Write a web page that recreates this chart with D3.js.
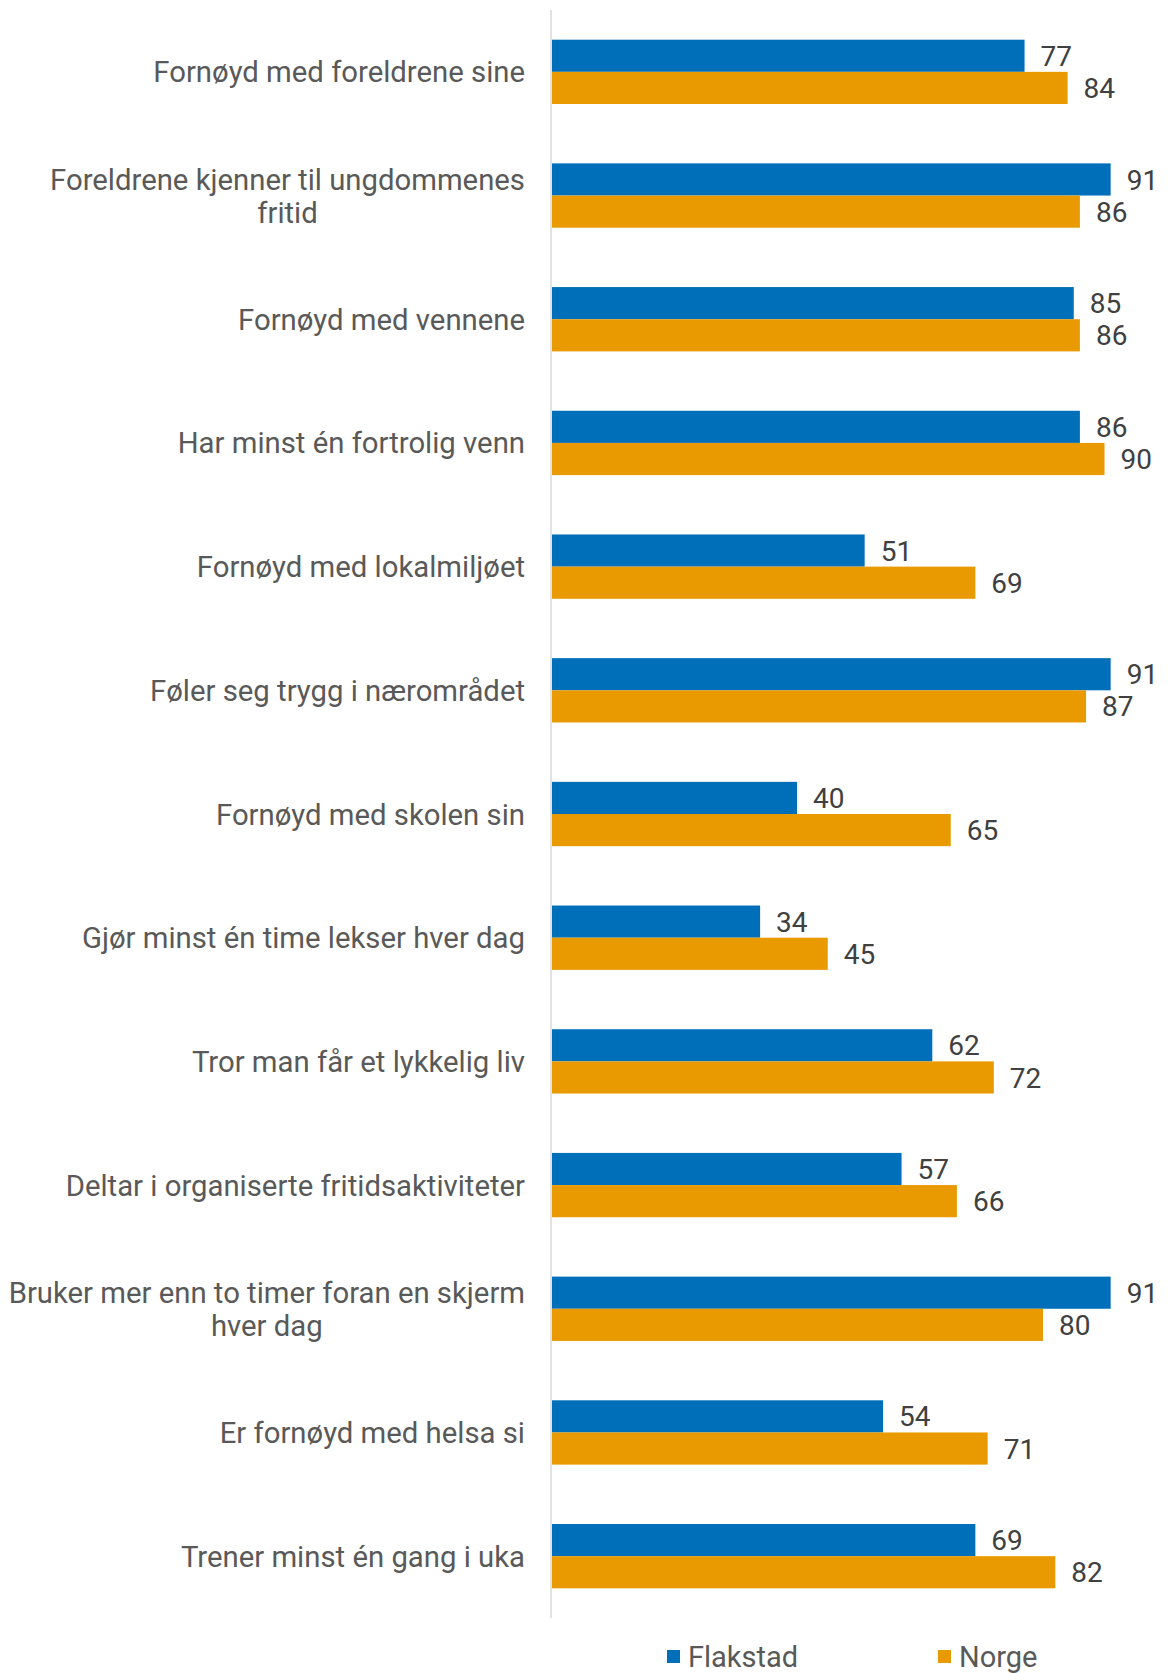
<!DOCTYPE html>
<html lang="no">
<head>
<meta charset="UTF-8">
<title>Flakstad vs Norge</title>
<script src="https://d3js.org/d3.v7.min.js"></script>
<style>
  body { margin: 0; background: #fff; }
  text { font-family: Roboto, "Liberation Sans", sans-serif; }
</style>
</head>
<body>
<script>
var categories = [
    ["Fornøyd med foreldrene sine"],
    ["Foreldrene kjenner til ungdommenes", "fritid"],
    ["Fornøyd med vennene"],
    ["Har minst én fortrolig venn"],
    ["Fornøyd med lokalmiljøet"],
    ["Føler seg trygg i nærområdet"],
    ["Fornøyd med skolen sin"],
    ["Gjør minst én time lekser hver dag"],
    ["Tror man får et lykkelig liv"],
    ["Deltar i organiserte fritidsaktiviteter"],
    ["Bruker mer enn to timer foran en skjerm", "hver dag"],
    ["Er fornøyd med helsa si"],
    ["Trener minst én gang i uka"]
];
var seriesNames = ["Flakstad", "Norge"];
var flakstad = [77, 91, 85, 86, 51, 91, 40, 34, 62, 57, 91, 54, 69];
var norge = [84, 86, 86, 90, 69, 87, 65, 45, 72, 66, 80, 71, 82];
var colors = ["#006FBA", "#E89A00"];

var width = 1168, height = 1673;
var x0 = 551, x1 = 1166, yTop = 10, yBot = 1618;

var svg = d3.select("body").append("svg")
    .attr("width", width)
    .attr("height", height);

var y = d3.scaleBand()
    .domain(d3.range(categories.length))
    .range([yTop, yBot])
    .paddingInner(0.48)
    .paddingOuter(0.24);

var ySub = d3.scaleBand()
    .domain([0, 1])
    .range([0, y.bandwidth()]);

var x = d3.scaleLinear().domain([0, 100]).range([x0, x1]);

var rows = categories.map(function (c, i) {
    return { label: c, vals: [flakstad[i], norge[i]] };
});

// axis line
svg.append("line")
    .attr("x1", x0).attr("x2", x0)
    .attr("y1", yTop).attr("y2", yBot)
    .attr("stroke", "#d9d9d9")
    .attr("stroke-width", 1.5);

var g = svg.selectAll("g.cat")
    .data(rows)
    .enter().append("g")
    .attr("class", "cat")
    .attr("transform", function (d, i) { return "translate(0," + y(i) + ")"; });

g.selectAll("rect")
    .data(function (d) { return d.vals; })
    .enter().append("rect")
    .attr("x", x(0) + 1)
    .attr("y", function (d, j) { return ySub(j); })
    .attr("width", function (d) { return x(d) - x(0) - 1; })
    .attr("height", ySub.bandwidth())
    .attr("fill", function (d, j) { return colors[j]; });

g.selectAll("text.val")
    .data(function (d) { return d.vals; })
    .enter().append("text")
    .attr("class", "val")
    .attr("x", function (d) { return x(d) + 16; })
    .attr("y", function (d, j) { return ySub(j) + ySub.bandwidth() / 2; })
    .attr("dy", "0.36em")
    .attr("font-size", 28)
    .attr("fill", "#404040")
    .text(function (d) { return d; });

// category labels, centred lines in a right-aligned block
g.each(function (d) {
    var lab = d3.select(this).append("text")
        .attr("font-size", 29.3)
        .attr("fill", "#595959");
    var n = d.label.length;
    var lineH = 33;
    var spans = lab.selectAll("tspan")
        .data(d.label)
        .enter().append("tspan")
        .text(function (t) { return t; });
    var widths = [];
    spans.each(function () { widths.push(this.getComputedTextLength()); });
    var maxW = d3.max(widths);
    var cx = 525 - maxW / 2;
    spans.attr("x", cx)
        .attr("text-anchor", "middle")
        .attr("y", function (t, k) { return y.bandwidth() / 2 + (k - (n - 1) / 2) * lineH; })
        .attr("dy", "0.36em");
});

// legend
var legendX = [667, 938];
var leg = svg.selectAll("g.leg")
    .data(seriesNames)
    .enter().append("g")
    .attr("class", "leg")
    .attr("transform", function (d, i) { return "translate(" + legendX[i] + ",1657)"; });
leg.append("rect")
    .attr("x", 0).attr("y", -7)
    .attr("width", 13).attr("height", 13)
    .attr("fill", function (d, i) { return colors[i]; });
leg.append("text")
    .attr("x", 21)
    .attr("dy", "0.36em")
    .attr("font-size", 29)
    .attr("fill", "#595959")
    .text(function (d) { return d; });
</script>
</body>
</html>
